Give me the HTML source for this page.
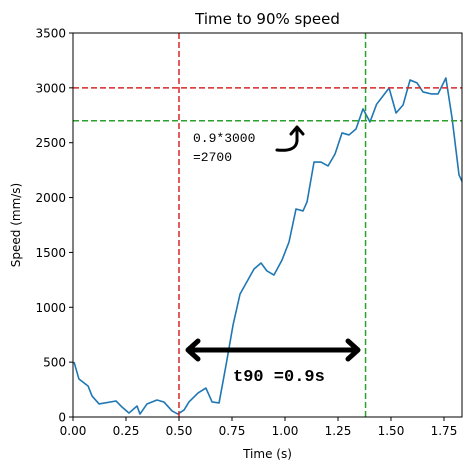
<!DOCTYPE html>
<html><head><meta charset="utf-8"><style>
body{margin:0;background:#fff}
svg{display:block;font-family:"DejaVu Sans","Liberation Sans",sans-serif}
</style></head><body>
<svg id="c" width="470" height="469"></svg>
<script>
const times=[0.005,0.028,0.071,0.090,0.123,0.203,0.231,0.264,0.302,0.316,0.349,0.396,0.429,0.467,0.495,0.524,0.547,0.590,0.627,0.656,0.689,0.722,0.755,0.788,0.854,0.887,0.915,0.948,0.986,1.019,1.052,1.085,1.104,1.137,1.170,1.203,1.236,1.269,1.302,1.335,1.368,1.401,1.432,1.491,1.524,1.557,1.590,1.623,1.651,1.689,1.722,1.759,1.788,1.821,1.854];
const speeds=[501,346,283,191,119,146,91,36,100,27,119,155,137,55,27,64,137,219,264,137,128,474,839,1121,1349,1404,1331,1294,1431,1595,1896,1878,1960,2324,2324,2288,2397,2589,2571,2625,2808,2689,2850,2999,2771,2844,3072,3045,2963,2945,2945,3090,2726,2206,2069];
const xTicks=[0,0.25,0.5,0.75,1.0,1.25,1.5,1.75];
const xTickLabels=["0.00","0.25","0.50","0.75","1.00","1.25","1.50","1.75"];
const yTicks=[0,500,1000,1500,2000,2500,3000,3500];
const yTickLabels=["0","500","1000","1500","2000","2500","3000","3500"];
const markerTime=[0.5,1.38];
const markerSpeed=[3000,2700];
const L=73,R=462,T=33,B=417,XMAX=1.835,YMAX=3500;
const X=t=>L+t/XMAX*(R-L);
const Y=v=>B-v/YMAX*(B-T);
const svg=document.getElementById('c');
const NS='http://www.w3.org/2000/svg';
function mk(tag,attrs,parent){const e=document.createElementNS(NS,tag);for(const k in attrs)e.setAttribute(k,attrs[k]);(parent||svg).appendChild(e);return e;}
let e;
const defs=mk('defs',{});
const cp=mk('clipPath',{id:'clip'},defs);
mk('rect',{x:L,y:T,width:R-L,height:B-T},cp);
e=mk('rect',{x:L,y:T,width:R-L,height:B-T,fill:'#fff'});


e=mk('polyline',{points:times.map((t,i)=>X(t)+','+Y(speeds[i])).join(' '),fill:'none',stroke:'#1f77b4','stroke-width':1.6,'stroke-linejoin':'round','clip-path':'url(#clip)'});


e=mk('line',{x1:X(markerTime[0]),x2:X(markerTime[0]),y1:T,y2:B,stroke:'#d62728','stroke-width':1.5,'stroke-dasharray':'6,3'});


e=mk('line',{x1:X(markerTime[1]),x2:X(markerTime[1]),y1:T,y2:B,stroke:'#2ca02c','stroke-width':1.5,'stroke-dasharray':'6,3'});


e=mk('line',{x1:L,x2:R,y1:Y(markerSpeed[0]),y2:Y(markerSpeed[0]),stroke:'#d62728','stroke-width':1.5,'stroke-dasharray':'6,3'});


e=mk('line',{x1:L,x2:R,y1:Y(markerSpeed[1]),y2:Y(markerSpeed[1]),stroke:'#2ca02c','stroke-width':1.5,'stroke-dasharray':'6,3'});


e=mk('rect',{x:L,y:T,width:R-L,height:B-T,fill:'none',stroke:'#000','stroke-width':1});


xTicks.forEach((t,i)=>{
  e=mk('line',{x1:X(t),x2:X(t),y1:B,y2:B+4,stroke:'#000'});
  
  
  e=mk('text',{x:X(t),y:B+18,'font-size':12,'text-anchor':'middle'});e.textContent=xTickLabels[i];
  
  
});
yTicks.forEach((v,i)=>{
  e=mk('line',{x1:L-4,x2:L,y1:Y(v),y2:Y(v),stroke:'#000'});
  
  
  e=mk('text',{x:L-7,y:Y(v)+4.5,'font-size':12,'text-anchor':'end'});e.textContent=yTickLabels[i];
  
  
});
e=mk('text',{x:(L+R)/2,y:24,'font-size':15,'text-anchor':'middle'});e.textContent='Time to 90% speed';


e=mk('text',{x:(L+R)/2,y:458,'font-size':12,'text-anchor':'middle'});e.textContent='Time (s)';


e=mk('text',{x:20,y:(T+B)/2,'font-size':12,'text-anchor':'middle',transform:'rotate(-90 20 '+(T+B)/2+')'});e.textContent='Speed (mm/s)';


e=mk('text',{x:193,y:142,'font-size':13,'font-family':'Liberation Mono,monospace'});e.textContent='0.9*3000';


e=mk('text',{x:193,y:161,'font-size':13,'font-family':'Liberation Mono,monospace'});e.textContent='=2700';


e=mk('path',{d:'M277 150 Q296 152 297 141 L297 128 M291 134 L297 127 L303 134',fill:'none',stroke:'#000','stroke-width':3,'stroke-linecap':'round','stroke-linejoin':'round'});


e=mk('path',{d:'M188 350 L358 350 M198 341 L188 350 L198 359 M348 341 L358 350 L348 359',fill:'none',stroke:'#000','stroke-width':5,'stroke-linecap':'round','stroke-linejoin':'round'});


e=mk('text',{x:233,y:381,'font-size':17,'font-weight':'bold','font-family':'Liberation Mono,monospace'});e.textContent='t90 =0.9s';


</script>
</body></html>
